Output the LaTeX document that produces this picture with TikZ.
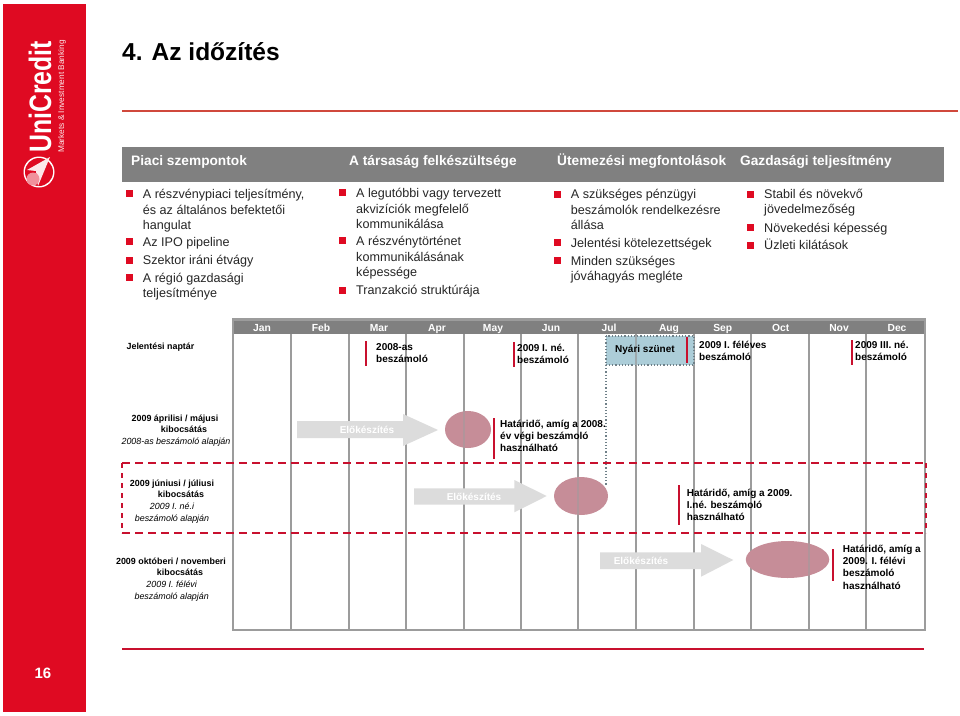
\documentclass[tikz,border=0pt]{standalone}
\usepackage{fontspec}
\setmainfont{Liberation Sans}
\usetikzlibrary{shapes.geometric}
\definecolor{ucred}{HTML}{DF0A22}
\definecolor{barred}{HTML}{C8102E}
\definecolor{headgray}{HTML}{808080}
\definecolor{gridgray}{HTML}{9C9C9C}
\definecolor{arrowgray}{HTML}{DCDCDC}
\definecolor{ellred}{HTML}{C68D98}
\definecolor{bluebox}{HTML}{A3C8D4}
\definecolor{dotgray}{HTML}{6F8088}
\definecolor{ruleup}{HTML}{D0483C}
\tikzset{
 x=1pt,y=-1pt,
 body/.style={anchor=north west,inner sep=0pt,align=left,font=\fontsize{12.6}{15.5}\selectfont,text=black!85},
 bull/.style={fill=ucred,draw=none,minimum size=7pt,inner sep=0pt},
 head/.style={anchor=base west,inner sep=0pt,font=\bfseries\fontsize{13.7}{15}\selectfont,text=white},
 month/.style={anchor=base,inner sep=0pt,font=\bfseries\fontsize{10.3}{12}\selectfont,text=white},
 rep/.style={anchor=north west,inner sep=0pt,align=left,font=\bfseries\fontsize{10}{12.2}\selectfont},
 side/.style={inner sep=0pt,align=center,font=\bfseries\fontsize{8.9}{10.6}\selectfont},
 sideit/.style={inner sep=0pt,align=center,font=\itshape\fontsize{8.9}{12.3}\selectfont},
 grid/.style={draw=gridgray,line width=2pt},
 redbar/.style={draw=barred,line width=2pt},
 framehoriz/.style={draw=barred,line width=2pt,dash pattern=on 8pt off 5pt},
 framevert/.style={draw=barred,line width=2pt,dash pattern=on 5pt off 5pt},
 prep/.style={fill=arrowgray,draw=none},
 preptext/.style={inner sep=0pt,font=\bfseries\fontsize{10}{12}\selectfont,text=white},
 deadline/.style={ellipse,fill=ellred,draw=none,inner sep=0pt},
 seen/.style={draw=gridgray!50!ellred,line width=2pt},
}
\begin{document}
\begin{tikzpicture}
\useasboundingbox[fill=white] (0,0) rectangle (960,715);
% left band
\fill[ucred] (2.5,4) rectangle (86,712);
\node[rotate=90,inner sep=0pt,text=white,font=\bfseries\fontsize{31}{31}\selectfont] (logo) at (40,97) {\scalebox{0.8}[1]{UniCredit}};
\node[rotate=90,inner sep=0pt,text=white!90!ucred,font=\fontsize{8.3}{10}\selectfont] (logosub) at (62,96.5) {Markets \& Investment Banking};
\fill[white] (39,172) circle (15.5);
\fill[ucred] (39,172) circle (14);
\fill[white!90!ucred] (27,170) -- (50,157) -- (38,186) -- (36,171) -- cycle;
\fill[white!55!ucred] (33,179) circle (6.5);
\node[inner sep=0pt,font=\bfseries\fontsize{15}{18}\selectfont,text=white] (pg) at (43,673) {16};
% title
\node[anchor=west,inner sep=0pt,font=\bfseries\fontsize{24.5}{30}\selectfont] (title) at (122,52) {4. Az időzítés};
\draw[ruleup,line width=2pt] (122,111) -- (958,111);
\draw[barred,line width=2pt] (122,649) -- (924,649);
% header
\fill[headgray] (122,147) rectangle (944,182);
\node[head] (h1) at (131,165) {Piaci szempontok};
\node[head] (h2) at (349,165) {A társaság felkészültsége};
\node[head] (h3) at (557,165) {Ütemezési megfontolások};
\node[head] (h4) at (740,165) {Gazdasági teljesítmény};
% col 1
\foreach \y in {193.3,241.7,260,277.5} \node[bull] at (129,\y) {};
\node[body] (c1a) at (142.7,189.5) {A részvénypiaci teljesítmény,\\és az általános befektetői\\hangulat};
\node[body] (c1b) at (142.7,237.5) {Az IPO pipeline};
\node[body] (c1c) at (142.7,255.5) {Szektor iráni étvágy};
\node[body] (c1d) at (142.7,273) {A régió gazdasági\\teljesítménye};
% col 2
\foreach \y in {192.7,240.7,290.7} \node[bull] at (342.7,\y) {};
\node[body] (c2a) at (356,188.5) {A legutóbbi vagy tervezett\\akvizíciók megfelelő\\kommunikálása};
\node[body] (c2b) at (356,236.5) {A részvénytörténet\\kommunikálásának\\képessége};
\node[body] (c2c) at (356,285) {Tranzakció struktúrája};
% col 3
\foreach \y in {194,242.7,260} \node[bull] at (557.3,\y) {};
\node[body] (c3a) at (570.7,189.5) {A szükséges pénzügyi\\beszámolók rendelkezésre\\állása};
\node[body] (c3b) at (570.7,238.5) {Jelentési kötelezettségek};
\node[body] (c3c) at (570.7,256) {Minden szükséges\\jóváhagyás megléte};
% col 4
\foreach \y in {194,227.3,245} \node[bull] at (750.7,\y) {};
\node[body] (c4a) at (764,189) {Stabil és növekvő\\jövedelmezőség};
\node[body] (c4b) at (764,223) {Növekedési képesség};
\node[body] (c4c) at (764,239) {Üzleti kilátások};
% calendar
\fill[gridgray] (232,318) rectangle (926,321);
\fill[headgray] (234,321) rectangle (924,334);
\foreach \x in {291,349,406,464,521,578,636,694,751,809,866}
  \draw[grid] (\x,334) -- (\x,630);
\draw[grid] (233,320) -- (233,630) -- (925,630) -- (925,320);
\foreach \x/\m in {262/Jan,321/Feb,379/Mar,437/Apr,493/May,551/Jun,609/Jul,669/Aug,722.7/Sep,780.7/Oct,839/Nov,897/Dec}
  \node[month] at (\x,331.5) {\m};
% summer break
\fill[bluebox,opacity=.9] (606,336) rectangle (694,365);
\draw[dotgray,line width=1.2pt,dotted] (606,336) rectangle (694,365);
\draw[dotgray,line width=1.2pt,dotted] (606,365) -- (606,485);
\draw[draw=gridgray!70!bluebox,line width=2pt] (636,336) -- (636,365);
\node[rep] (ny) at (615,345) {Nyári szünet};
% report markers
\draw[redbar] (366,341) -- (366,366);
\draw[redbar] (514,342) -- (514,367);
\draw[redbar] (687,337) -- (687,363);
\draw[redbar] (852,340) -- (852,365);
\node[rep] (r1) at (376,343.5) {2008-as\\beszámoló};
\node[rep] (r2) at (517,344) {2009 I. né.\\beszámoló};
\node[rep] (r3) at (699,341) {2009 I. féléves\\beszámoló};
\node[rep] (r4) at (855,341) {2009 III. né.\\beszámoló};
% left labels
\node[side] (l0) at (160.5,347) {Jelentési naptár};
\node[side] (l1) at (175,424) {2009 áprilisi / májusi\\\hspace*{18pt}kibocsátás};
\node[sideit] (l1b) at (176,442) {2008-as beszámoló alapján};
\node[side] (l2) at (172,489) {2009 júniusi / júliusi\\\hspace*{18pt}kibocsátás};
\node[sideit] (l2b) at (172,513) {2009 I. né.i\\beszámoló alapján};
\node[side] (l3) at (171,567) {2009 októberi / novemberi\\\hspace*{18pt}kibocsátás};
\node[sideit] (l3b) at (171.7,591.3) {2009 I. félévi\\beszámoló alapján};
% arrows
\fill[prep] (297,421) -- (403,421) -- (403,414) -- (438,430) -- (403,446) -- (403,438) -- (297,438) -- cycle;
\node[preptext] (p1) at (367,430) {Előkészítés};
\fill[prep] (414,488.3) -- (514.3,488.3) -- (514.3,480) -- (546.7,496) -- (514.3,512.3) -- (514.3,504.5) -- (414,504.5) -- cycle;
\node[preptext] (p2) at (474,497) {Előkészítés};
\fill[prep] (600,552.3) -- (701,552.3) -- (701,544) -- (733.3,560) -- (701,576.7) -- (701,569) -- (600,569) -- cycle;
\node[preptext] (p3) at (641,561) {Előkészítés};
% ellipses
\node[deadline,minimum width=46pt,minimum height=37pt] (e1) at (468,429.5) {};
\node[deadline,minimum width=54pt,minimum height=38pt] (e2) at (581,496) {};
\node[deadline,minimum width=83.5pt,minimum height=37pt] (e3) at (787.5,559.5) {};
\draw[seen] (464,411) -- (464,448);
\draw[seen] (578,477.5) -- (578,514.5);
\draw[seen] (809,543) -- (809,576);
% red dashed frame
\draw[framehoriz] (122,463) -- (926,463);
\draw[framehoriz] (122,533) -- (926,533);
\draw[framevert] (122,463) -- (122,533);
\draw[framevert] (926,463) -- (926,533);
% deadlines
\draw[redbar] (494,418) -- (494,459);
\draw[redbar] (679,485) -- (679,525);
\draw[redbar] (833,549) -- (833,581);
\node[rep] (d1) at (500,420) {Határidő, amíg a 2008.\\év végi beszámoló\\használható};
\node[rep] (d2) at (686.7,489) {Határidő, amíg a 2009.\\I.né. beszámoló\\használható};
\node[rep] (d3) at (842.7,545) {Határidő, amíg a\\2009. I. félévi\\beszámoló\\használható};
\end{tikzpicture}
\end{document}
